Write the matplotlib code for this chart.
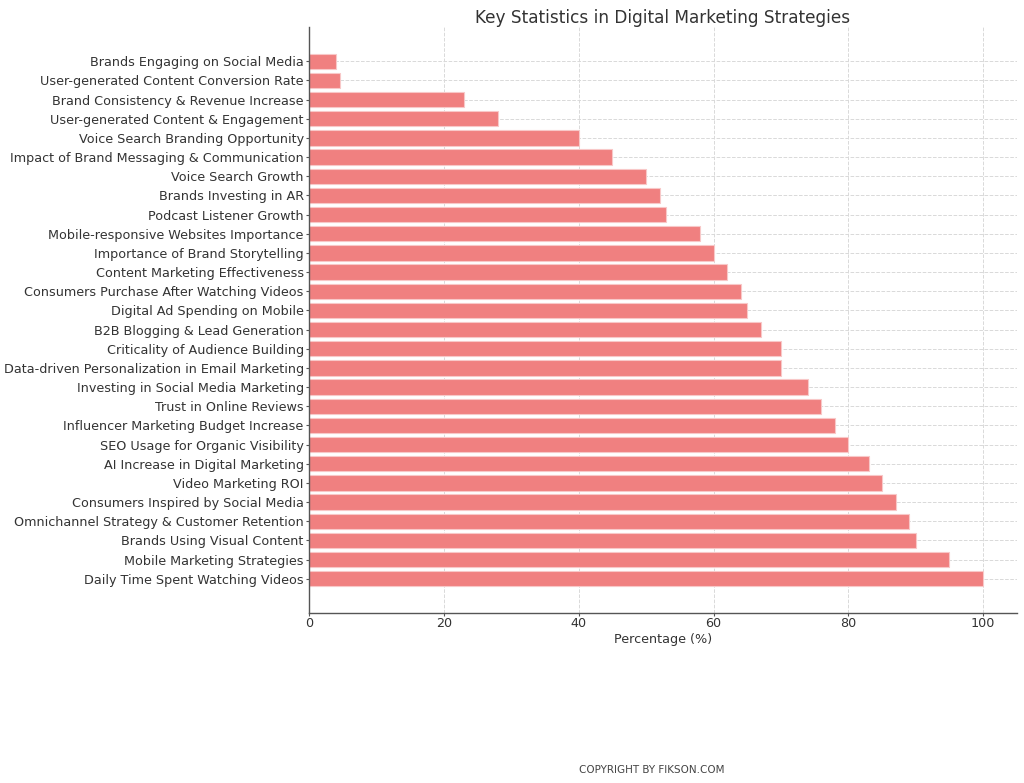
import matplotlib
matplotlib.use("Agg")
import matplotlib.pyplot as plt

categories = [
    "Daily Time Spent Watching Videos",
    "Mobile Marketing Strategies",
    "Brands Using Visual Content",
    "Omnichannel Strategy & Customer Retention",
    "Consumers Inspired by Social Media",
    "Video Marketing ROI",
    "AI Increase in Digital Marketing",
    "SEO Usage for Organic Visibility",
    "Influencer Marketing Budget Increase",
    "Trust in Online Reviews",
    "Investing in Social Media Marketing",
    "Data-driven Personalization in Email Marketing",
    "Criticality of Audience Building",
    "B2B Blogging & Lead Generation",
    "Digital Ad Spending on Mobile",
    "Consumers Purchase After Watching Videos",
    "Content Marketing Effectiveness",
    "Importance of Brand Storytelling",
    "Mobile-responsive Websites Importance",
    "Podcast Listener Growth",
    "Brands Investing in AR",
    "Voice Search Growth",
    "Impact of Brand Messaging & Communication",
    "Voice Search Branding Opportunity",
    "User-generated Content & Engagement",
    "Brand Consistency & Revenue Increase",
    "User-generated Content Conversion Rate",
    "Brands Engaging on Social Media",
]
values = [100, 95, 90, 89, 87, 85, 83, 80, 78, 76, 74, 70, 70, 67, 65, 64,
          62, 60, 58, 53, 52, 50, 45, 40, 28, 23, 4.5, 4]

text_color = "#333333"
fig = plt.figure(figsize=(10.24, 7.83), dpi=100)
ax = fig.add_axes([0.302, 0.217, 0.691, 0.7485])
ax.barh(categories, values, color="lightcoral", edgecolor="#f8c8c8", linewidth=0.8, zorder=2)
ax.set_xlim(0, 105)
ax.grid(True, linestyle="--", color="#d9d9d9", linewidth=0.7, zorder=0)
ax.set_axisbelow(True)
for s in ["top", "right"]:
    ax.spines[s].set_visible(False)
for s in ["left", "bottom"]:
    ax.spines[s].set_color("#555555")
    ax.spines[s].set_linewidth(1.0)
ax.tick_params(axis="y", labelsize=9.2, colors=text_color, length=2.5, pad=1.5, color="#555555")
ax.tick_params(axis="x", labelsize=9.2, colors=text_color, length=2, pad=1, color="#555555")
ax.set_xlabel("Percentage (%)", fontsize=9.2, color=text_color, labelpad=2)
ax.set_title("Key Statistics in Digital Marketing Strategies", fontsize=12.2, color=text_color, pad=1)
fig.text(0.636, 0.017, "COPYRIGHT BY FIKSON.COM", ha="center", va="center", fontsize=7.5, color="#444444")
fig.savefig("out.png", dpi=100)
